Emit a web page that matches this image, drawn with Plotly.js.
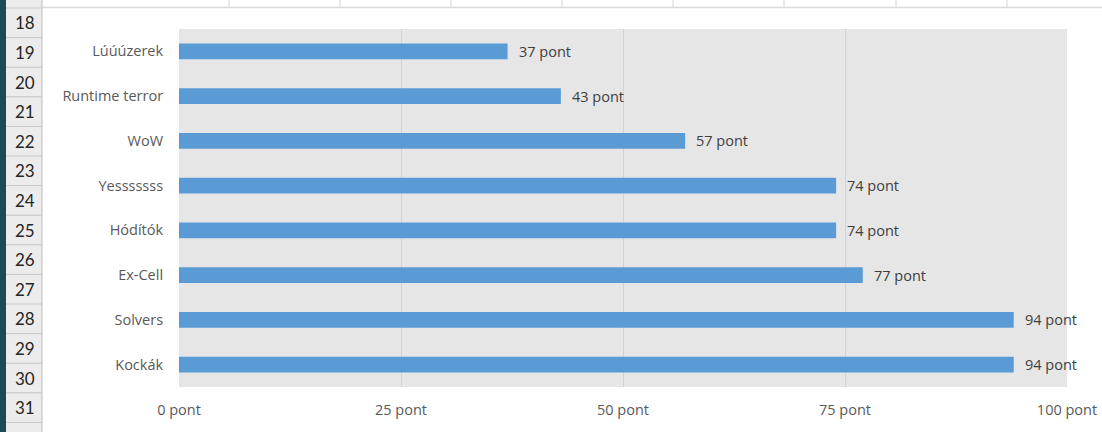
<!DOCTYPE html>
<html>
<head>
<meta charset="utf-8">
<script src="https://cdn.plot.ly/plotly-3.0.1.min.js"></script>
<style>
html,body{margin:0;padding:0;background:#fff;}
#chart{width:1102px;height:432px;}
</style>
</head>
<body>
<div id="chart"></div>
<script>
// Data (top to bottom as shown)
const teams = ["Lúúúzerek", "Runtime terror", "WoW", "Yesssssss", "Hódítók", "Ex-Cell", "Solvers", "Kockák"];
const points = [37, 43, 57, 74, 74, 77, 94, 94];
const xTickVals = [0, 25, 50, 75, 100];
const xTickText = ["0 pont", "25 pont", "50 pont", "75 pont", "100 pont"];
const rowNumbers = [17, 18, 19, 20, 21, 22, 23, 24, 25, 26, 27, 28, 29, 30, 31];
const unit = " pont";

// plot area in pixels
const W = 1102, H = 432;
const PX0 = 179, PX1 = 1067, PY0 = 29, PY1 = 387;
const px = x => (x - PX0) / (PX1 - PX0);
const py = y => (PY1 - y) / (PY1 - PY0);

const shapes = [];
const annotations = [];
const font = "'Open Sans', 'Noto Sans', sans-serif";
const rowFont = "Lato, 'Open Sans', sans-serif";

// spreadsheet frame
shapes.push({type:'rect', xref:'paper', yref:'paper', x0:px(0), x1:px(6), y0:py(0), y1:py(H), fillcolor:'#1c4b56', line:{width:0}});
shapes.push({type:'rect', xref:'paper', yref:'paper', x0:px(6), x1:px(42), y0:py(0), y1:py(H), fillcolor:'#ececec', line:{width:0}});
shapes.push({type:'line', xref:'paper', yref:'paper', x0:px(42), x1:px(42), y0:py(0), y1:py(H), line:{color:'#bdbdbd', width:1}});
const rowH = 29.6, rowTop = 8;
for (let k = 0; k < rowNumbers.length + 1; k++) {
  shapes.push({type:'line', xref:'paper', yref:'paper', x0:px(6), x1:px(42), y0:py(rowTop + k*rowH), y1:py(rowTop + k*rowH), line:{color:'#c6c6c6', width:1}});
}
rowNumbers.forEach((r, i) => {
  const cy = rowTop + (i - 1) * rowH + rowH / 2;
  annotations.push({xref:'paper', yref:'paper', x:px(25), y:py(cy), text:String(r), showarrow:false, xanchor:'center', yanchor:'middle', font:{family:rowFont, size:17, color:'#262626'}});
});
// top sheet gridline and column separators
shapes.push({type:'line', xref:'paper', yref:'paper', x0:px(42), x1:px(W), y0:py(7.5), y1:py(7.5), line:{color:'#d9d9d9', width:1.5}});
[229, 340, 451, 562, 673, 784, 896, 1007].forEach(x => {
  shapes.push({type:'line', xref:'paper', yref:'paper', x0:px(x), x1:px(x), y0:py(0), y1:py(7), line:{color:'#d4d4d4', width:1}});
});

// data labels
teams.forEach((t, i) => {
  annotations.push({x: points[i], y: t, xref:'x', yref:'y', text: points[i] + unit, showarrow:false, xanchor:'left', yanchor:'middle', xshift:9, font:{family:font, size:14.5, color:'#404040'}});
});

const trace = {
  type:'bar', orientation:'h', x: points, y: teams,
  marker:{color:'#5b9bd5'}, width:0.35, hoverinfo:'none'
};

const layout = {
  width:W, height:H,
  margin:{l:PX0, r:W-PX1, t:PY0, b:H-PY1, pad:0},
  paper_bgcolor:'#ffffff', plot_bgcolor:'#e6e6e6',
  showlegend:false,
  xaxis:{range:[0,100], tickvals:xTickVals, ticktext:xTickText, showgrid:true, gridcolor:'#d3d3d3', gridwidth:1, zeroline:false,
         ticks:'outside', ticklen:10, tickcolor:'rgba(0,0,0,0)', tickfont:{family:font, size:14.5, color:'#595959'}, fixedrange:true, showline:false},
  yaxis:{type:'category', autorange:'reversed', ticks:'outside', ticklen:12, tickcolor:'rgba(0,0,0,0)', showgrid:false, zeroline:false,
         tickfont:{family:font, size:14.5, color:'#595959'}, fixedrange:true},
  shapes: shapes, annotations: annotations
};

Plotly.newPlot('chart', [trace], layout, {displayModeBar:false, staticPlot:true});
</script>
</body>
</html>
